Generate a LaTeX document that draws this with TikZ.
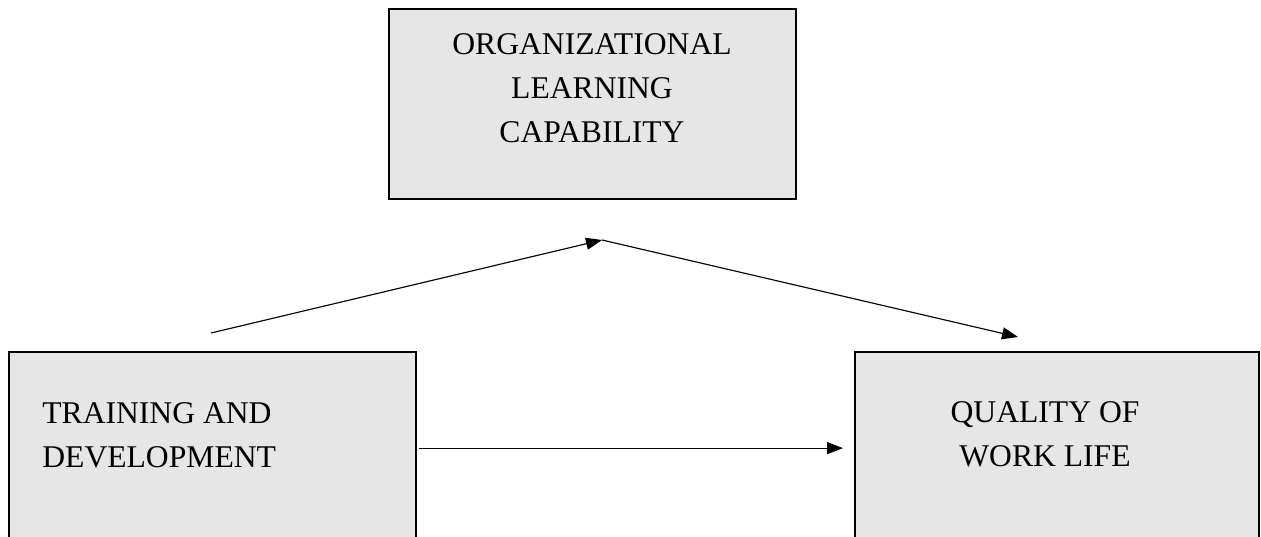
\documentclass[tikz,border=0pt]{standalone}
\usepackage{fontspec}
\setmainfont{Liberation Serif}
\usetikzlibrary{arrows.meta,positioning}
\definecolor{boxgray}{HTML}{E6E6E6}
\tikzset{
  varbox/.style={draw,line width=1.3pt,fill=boxgray,inner sep=0pt},
  vartext/.style={font=\fontsize{18}{25}\selectfont,inner sep=0pt},
  link/.style={line width=0.65pt,-{Triangle[length=0.32cm,width=0.24cm]}}
}
\begin{document}
\begin{tikzpicture}[x=0.02cm,y=-0.02cm]
	\useasboundingbox (0,0) rectangle (1261,537);
	\clip (0,0) rectangle (1261,537);
	\node[varbox,minimum width=8.14cm,minimum height=3.8cm] (olc) at (592.5,104){};
	\node[varbox,minimum width=8.14cm,minimum height=3.84cm,anchor=north west] (td) at (8,351){};
	\node[varbox,minimum width=8.08cm,minimum height=3.84cm,anchor=north west] (qwl) at (854,351){};
	\node[vartext,align=center] (olc-t) at (592,88){ORGANIZATIONAL\\LEARNING\\CAPABILITY};
	\node[vartext,align=left,anchor=west] (td-t) at (42,435){TRAINING AND\\DEVELOPMENT};
	\node[vartext,align=center] (qwl-t) at (1045,434){QUALITY OF\\WORK LIFE};
	\coordinate (up-s) at (211,333);
	\coordinate (up-e) at (602,240);
	\coordinate (dn-e) at (1018,337);
	\draw[link] (up-s)--(up-e);
	\draw[link] (up-e)--(dn-e);
	\draw[link] ([xshift=0.04cm]td.east)--([xshift=-0.22cm]qwl.west);
\end{tikzpicture}
\end{document}
